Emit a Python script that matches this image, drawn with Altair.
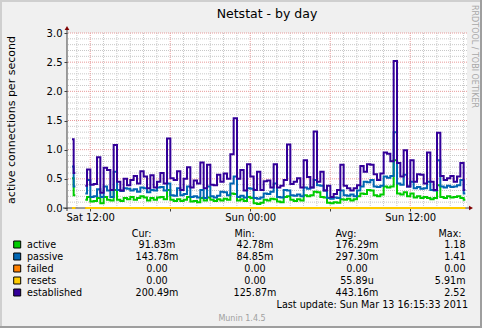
import altair as alt
import numpy as np
import pandas as pd

# ---- data: 15-minute samples (None = no data) ----
active = [None, 0.51, 0.22, None, None, 0.14, 0.19, 0.11, 0.12, 0.17,
          0.08, 0.19, 0.14, 0.13, 0.31, 0.14, 0.12, 0.17, 0.15, 0.19,
          0.14, 0.17, 0.2, 0.18, 0.13, 0.17, 0.14, 0.18, 0.19, 0.15,
          0.31, 0.14, 0.12, 0.15, 0.12, 0.14, 0.19, 0.11, 0.12, 0.1,
          0.17, 0.13, 0.18, 0.14, 0.12, 0.15, 0.13, 0.16, 0.14, 0.25,
          0.24, 0.13, 0.15, 0.12, 0.19, 0.17, 0.08, 0.07, 0.09, 0.14,
          0.13, 0.16, 0.15, 0.11, 0.1, 0.19, 0.2, 0.14, 0.12, 0.15,
          0.13, 0.22, 0.2, 0.22, 0.28, 0.27, 0.19, 0.18, 0.09, 0.08,
          0.1, 0.09, 0.15, 0.14, 0.16, 0.13, 0.15, 0.2, 0.25, 0.24,
          0.31, 0.3, 0.22, 0.2, 0.23, 0.37, 0.35, 0.37, 0.82, 0.25,
          0.23, 0.27, 0.2, 0.25, 0.18, 0.2, 0.17, 0.19, 0.17, 0.15,
          0.17, 0.39, 0.19, 0.17, 0.2, 0.18, 0.19, 0.2, 0.17, 0.14]

passive = [None, 0.71, 0.37, None, None, 0.25, 0.48, 0.19, 0.2, 0.32,
           0.19, 0.37, 0.3, 0.19, 0.62, 0.31, 0.29, 0.34, 0.33, 0.3,
           0.32, 0.28, 0.35, 0.34, 0.27, 0.31, 0.3, 0.35, 0.36, 0.3,
           0.42, 0.22, 0.21, 0.34, 0.22, 0.24, 0.37, 0.19, 0.2, 0.18,
           0.31, 0.17, 0.37, 0.2, 0.18, 0.21, 0.28, 0.27, 0.22, 0.42,
           0.54, 0.19, 0.21, 0.18, 0.34, 0.33, 0.17, 0.16, 0.18, 0.25,
           0.24, 0.28, 0.42, 0.19, 0.18, 0.31, 0.3, 0.22, 0.21, 0.23,
           0.2, 0.35, 0.33, 0.35, 0.48, 0.39, 0.38, 0.3, 0.17, 0.16,
           0.18, 0.17, 0.3, 0.22, 0.21, 0.23, 0.2, 0.3, 0.37, 0.45,
           0.44, 0.48, 0.37, 0.36, 0.38, 0.54, 0.52, 0.55, 1.3, 0.42,
           0.4, 0.57, 0.37, 0.45, 0.34, 0.36, 0.33, 0.34, 0.45, 0.31,
           0.3, 0.82, 0.37, 0.35, 0.38, 0.36, 0.37, 0.39, 0.48, 0.25]

failed = [None, 0, 0, None, None, 0, 0, 0, 0, 0,
          0, 0, 0, 0, 0, 0, 0, 0, 0, 0,
          0, 0, 0, 0, 0, 0, 0, 0, 0, 0,
          0, 0, 0, 0, 0, 0, 0, 0, 0, 0,
          0, 0, 0, 0, 0, 0, 0, 0, 0, 0,
          0, 0, 0, 0, 0, 0, 0, 0, 0, 0,
          0, 0, 0, 0, 0, 0, 0, 0, 0, 0,
          0, 0, 0, 0, 0, 0, 0, 0, 0, 0,
          0, 0, 0, 0, 0, 0, 0, 0, 0, 0,
          0, 0, 0, 0, 0, 0, 0, 0, 0, 0,
          0, 0, 0, 0, 0, 0, 0, 0, 0, 0,
          0, 0, 0, 0, 0, 0, 0, 0, 0, 0]

resets = [None, 0, 0, None, None, 0, 0, 0, 0, 0,
          0, 0, 0, 0, 0, 0, 0, 0, 0, 0,
          0, 0, 0, 0, 0, 0, 0, 0, 0, 0,
          0, 0, 0, 0, 0, 0, 0, 0, 0, 0,
          0, 0, 0, 0, 0, 0, 0, 0, 0, 0,
          0, 0, 0, 0, 0, 0, 0, 0, 0, 0,
          0, 0, 0, 0, 0, 0, 0, 0, 0, 0,
          0, 0, 0, 0, 0, 0, 0, 0, 0, 0,
          0, 0, 0, 0, 0, 0, 0, 0, 0, 0,
          0, 0, 0, 0, 0, 0, 0, 0, 0, 0,
          0, 0, 0, 0, 0, 0, 0, 0, 0, 0,
          0, 0, 0, 0, 0, 0, 0, 0, 0, 0]

established = [None, 1.18, 0.6, None, None, 0.38, 0.66, 0.4, 0.41, 0.87,
               0.26, 0.69, 0.65, 0.31, 1.08, 0.45, 0.3, 0.5, 0.39, 0.48,
               0.55, 0.42, 0.63, 0.54, 0.34, 0.56, 0.35, 0.45, 0.6, 0.42,
               1.19, 0.51, 0.48, 0.63, 0.31, 0.5, 0.7, 0.35, 0.47, 0.42,
               0.78, 0.34, 0.74, 0.4, 0.39, 0.57, 0.45, 0.59, 0.5, 0.92,
               1.54, 0.5, 0.65, 0.3, 0.75, 0.54, 0.31, 0.62, 0.31, 0.46,
               0.47, 0.35, 0.75, 0.35, 0.38, 0.48, 1.09, 0.41, 0.45, 0.51,
               0.35, 0.82, 0.53, 0.35, 1.31, 0.45, 0.62, 0.3, 0.38, 0.19,
               0.24, 0.31, 0.74, 0.38, 0.34, 0.3, 0.34, 0.39, 0.72, 0.62,
               0.75, 0.74, 0.58, 0.48, 0.59, 0.95, 0.93, 0.8, 2.52, 0.77,
               0.54, 0.99, 0.37, 0.82, 0.45, 0.58, 0.57, 0.42, 0.95, 0.45,
               0.31, 1.29, 0.55, 0.48, 0.51, 0.55, 0.45, 0.54, 0.77, 0.31]

series_names = ["active", "passive", "failed", "resets", "established"]
series_colors = ["#00CC00", "#0066B3", "#FF8000", "#FFCC00", "#330099"]
cur_vals = ["91.83m", "143.78m", "0.00", "0.00", "200.49m"]
min_vals = ["42.78m", "84.85m", "0.00", "0.00", "125.87m"]
avg_vals = ["176.29m", "297.30m", "0.00", "55.89u", "443.16m"]
max_vals = ["1.18", "1.41", "0.00", "5.91m", "2.52"]
y_ticks = [0.0, 0.5, 1.0, 1.5, 2.0, 2.5, 3.0]

title_text = "Netstat - by day"
y_title = "active connections per second"
last_update = "Last update: Sun Mar 13 16:15:33 2011"
version_text = "Munin 1.4.5"
credit_text = "RRDTOOL / TOBI OETIKER"

# ---- time axis ----
START = pd.Timestamp("2011-03-12 10:15:33", tz="UTC")
END = pd.Timestamp("2011-03-13 16:15:33", tz="UTC")
EPOCH = pd.Timestamp("1970-01-01", tz="UTC")


def to_ms(ts):
    return int((ts - EPOCH) // pd.Timedelta(milliseconds=1))


n = len(established)
times = [START + pd.Timedelta(minutes=15 * i + 7.5) for i in range(n)]
df = pd.DataFrame({
    "t": [to_ms(t) for t in times],
    "active": active, "passive": passive, "failed": failed,
    "resets": resets, "established": established,
})

hours = [pd.Timestamp("2011-03-12 11:00", tz="UTC") + pd.Timedelta(hours=h) for h in range(30)]
hours = [h for h in hours if h < END]
minor_x = pd.DataFrame({"t": [to_ms(h) for h in hours if h.hour % 6 != 0]})
major_x = pd.DataFrame({"t": [to_ms(h) for h in hours if h.hour % 6 == 0]})
minor_y = pd.DataFrame({"v": [k / 10 for k in range(1, 31) if k % 5 != 0]})
major_y = pd.DataFrame({"v": [k / 10 for k in range(5, 31, 5)]})

FONT = "DejaVu Sans"
AX = "#404040"

x_scale = alt.Scale(type="utc", domain=[to_ms(START), to_ms(END)])
y_scale = alt.Scale(domain=[0, 3], nice=False, zero=True)
x_axis = alt.Axis(values=major_x["t"].tolist(),
                  labelExpr="utchours(datum.value) % 12 == 0 ? utcFormat(datum.value, '%a %H:%M') : ''",
                  domain=False, grid=False, tickSize=3, tickColor=AX,
                  labelFont=FONT, labelFontSize=10, labelColor="black",
                  labelPadding=1, labelFlush=False, labelOverlap=False, title=None)
y_axis = alt.Axis(values=y_ticks, format=".1f", domain=False, grid=False,
                  tickSize=3, tickColor=AX, labelFont=FONT, labelFontSize=10,
                  labelColor="black", labelPadding=2, title=None)

X = alt.X("t:T", scale=x_scale, axis=x_axis)
layers = []

# grids
layers.append(alt.Chart(minor_x).mark_rule(color="#c8c8c8", strokeDash=[1, 1], strokeWidth=1).encode(x=X))
layers.append(alt.Chart(minor_y).mark_rule(color="#c8c8c8", strokeDash=[1, 1], strokeWidth=1).encode(
    y=alt.Y("v:Q", scale=y_scale, axis=y_axis)))
layers.append(alt.Chart(major_x).mark_rule(color="#e89a9a", strokeDash=[1, 1], strokeWidth=1).encode(x=X))
layers.append(alt.Chart(major_y).mark_rule(color="#e89a9a", strokeDash=[1, 1], strokeWidth=1).encode(
    y=alt.Y("v:Q", scale=y_scale, axis=y_axis)))

# axis lines + arrows
layers.append(alt.Chart(alt.Data(values=[{}])).mark_rule(color=AX, strokeWidth=1).encode(
    x=alt.value(0), y=alt.value(-4), y2=alt.value(178)))
layers.append(alt.Chart(alt.Data(values=[{}])).mark_rule(color=AX, strokeWidth=1).encode(
    x=alt.value(-4), x2=alt.value(403), y=alt.value(175)))
layers.append(alt.Chart(alt.Data(values=[{}])).mark_point(shape="triangle-up", filled=True, size=22,
                                                          color="#7f0000", opacity=1).encode(
    x=alt.value(0), y=alt.value(-5)))
layers.append(alt.Chart(alt.Data(values=[{}])).mark_point(shape="triangle-right", filled=True, size=22,
                                                          color="#7f0000", opacity=1).encode(
    x=alt.value(404), y=alt.value(175)))

# data lines
for name, col in zip(series_names, series_colors):
    layers.append(alt.Chart(df).mark_line(interpolate="step", strokeWidth=2, color=col).encode(
        x=X, y=alt.Y(f"{name}:Q", scale=y_scale, axis=y_axis)))


def txt(text, x, y, size=9.6, align="left", color="black", angle=0, baseline="alphabetic"):
    return alt.Chart(alt.Data(values=[{}])).mark_text(
        text=text, font=FONT, fontSize=size, align=align, baseline=baseline,
        color=color, angle=angle).encode(x=alt.value(x), y=alt.value(y))


# titles / annotations (pixel offsets relative to plot origin 67,33)
layers.append(txt(title_text, 200, -15, size=12.5, align="center"))
layers.append(txt(y_title, -55.5, 87, size=11, align="center", angle=270, baseline="middle"))
layers.append(txt(credit_text, 406.5, 23.5, size=8, align="center", color="#a8a8a8", angle=90, baseline="middle"))

# legend table
leg = pd.DataFrame({"label": series_names, "color": series_colors, "cur": cur_vals,
                    "mn": min_vals, "avg": avg_vals, "mx": max_vals,
                    "row": list(range(len(series_names)))})
YS = alt.Y("ys:Q", scale=None, axis=None)
YT = alt.Y("yt:Q", scale=None, axis=None)
base_leg = alt.Chart(leg).transform_calculate(ys="211.5 + 12 * datum.row", yt="215 + 12 * datum.row")
layers.append(base_leg.mark_square(size=49, stroke="black", strokeWidth=1, opacity=1).encode(
    x=alt.value(-49.8), y=YS, fill=alt.Fill("color:N", scale=None)))
for field, xpos, align in [("label", -40, "left"), ("cur", 90, "center"), ("mn", 188, "center"),
                           ("avg", 290, "center"), ("mx", 398.5, "right")]:
    layers.append(base_leg.mark_text(font=FONT, fontSize=9.6, align=align, baseline="alphabetic",
                                     color="black").encode(x=alt.value(xpos), y=YT, text=f"{field}:N"))

for h, xpos in [("Cur:", 74.7), ("Min:", 177.5), ("Avg:", 279), ("Max:", 383)]:
    layers.append(txt(h, xpos, 203.5, align="center"))
layers.append(txt(last_update, 401, 275, align="right"))
layers.append(txt(version_text, 175, 287.7, size=8, align="center", color="#a0a0a0"))

# frame (shade lines)
layers.append(alt.Chart(alt.Data(values=[{}])).mark_rule(color="#cfcfcf", strokeWidth=2).encode(
    x=alt.value(-67), x2=alt.value(415), y=alt.value(-32)))
layers.append(alt.Chart(alt.Data(values=[{}])).mark_rule(color="#cfcfcf", strokeWidth=2).encode(
    x=alt.value(-66), y=alt.value(-33), y2=alt.value(295)))
layers.append(alt.Chart(alt.Data(values=[{}])).mark_rule(color="#9e9e9e", strokeWidth=2).encode(
    x=alt.value(-67), x2=alt.value(415), y=alt.value(294)))
layers.append(alt.Chart(alt.Data(values=[{}])).mark_rule(color="#9e9e9e", strokeWidth=2).encode(
    x=alt.value(414), y=alt.value(-33), y2=alt.value(295)))

chart = alt.layer(*layers).properties(
    width=400, height=175,
    padding={"left": 67, "top": 33, "right": 15, "bottom": 120},
    autosize=alt.AutoSizeParams(type="none"),
    background="#f0f0f0",
).configure_view(fill="white", stroke=None)

chart.save("out.html", embed_options={"renderer": "svg", "actions": False})
